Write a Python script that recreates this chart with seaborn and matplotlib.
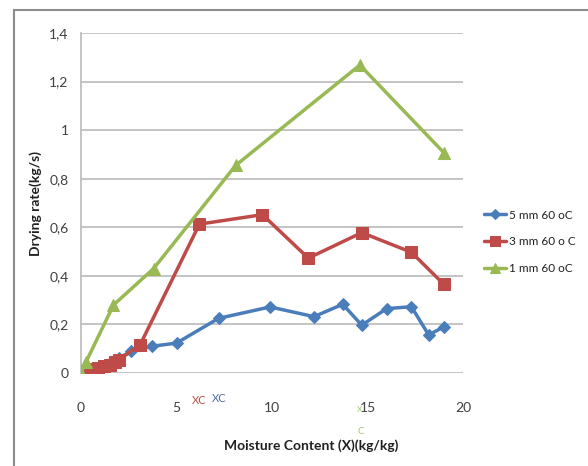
import matplotlib
matplotlib.use("Agg")
import matplotlib.pyplot as plt
import seaborn as sns
import pandas as pd
from matplotlib.patches import Rectangle

# Data
x_5mm = [0.0, 0.5, 1.0, 1.5, 2.0, 2.6, 3.7, 5.0, 7.2, 9.9, 12.2, 13.7, 14.7, 16.0, 17.3, 18.2, 19.0]
y_5mm = [0.0, 0.015, 0.03, 0.04, 0.06, 0.09, 0.11, 0.123, 0.225, 0.272, 0.232, 0.283, 0.197, 0.265, 0.273, 0.157, 0.19]

x_3mm = [0.0, 0.3, 0.6, 0.9, 1.2, 1.5, 1.8, 2.0, 3.1, 6.2, 9.5, 11.9, 14.7, 17.3, 19.0]
y_3mm = [0.005, 0.01, 0.015, 0.02, 0.03, 0.035, 0.045, 0.055, 0.117, 0.613, 0.652, 0.473, 0.578, 0.497, 0.365]

x_1mm = [0.0, 0.26, 1.7, 3.8, 8.1, 14.6, 19.0]
y_1mm = [0.0, 0.045, 0.28, 0.43, 0.855, 1.268, 0.907]

labels = ["5 mm 60 oC", "3 mm 60 o C", "1 mm 60 oC"]
yticks = [0, 0.2, 0.4, 0.6, 0.8, 1.0, 1.2, 1.4]
ytick_labels = ["0", "0,2", "0,4", "0,6", "0,8", "1", "1,2", "1,4"]
xticks = [0, 5, 10, 15, 20]

sns.set_style("white")
plt.rcParams['font.family'] = ['Lato', 'DejaVu Sans']

W, H = 588, 466
fig = plt.figure(figsize=(W / 100, H / 100), dpi=100)
ax = fig.add_axes([81 / W, 1 - 373 / H, (463 - 81) / W, (373 - 33) / H])

colors = ["#4A7EBB", "#BE4B48", "#98B954"]
markers = ["D", "s", "^"]
msizes = [6.5, 9, 9]
series = [(x_5mm, y_5mm), (x_3mm, y_3mm), (x_1mm, y_1mm)]
for (xs, ys), lab, c, m, ms in zip(series, labels, colors, markers, msizes):
    df = pd.DataFrame({"x": xs, "y": ys})
    sns.lineplot(data=df, x="x", y="y", ax=ax, color=c, marker=m, markersize=ms,
                 markeredgecolor=c, linewidth=2.5, sort=False, label=lab, zorder=3)

ax.set_xlim(0, 20)
ax.set_ylim(0, 1.4)
ax.set_yticks(yticks)
ax.set_yticklabels(ytick_labels)
ax.set_xticks(xticks)
ax.set_xticklabels([str(v) for v in xticks])
ax.tick_params(axis='both', length=0, labelsize=10, colors="#404040")
ax.tick_params(axis='x', pad=21)
ax.tick_params(axis='y', pad=9)
ax.grid(axis='y', color="#BFBFBF", linewidth=1.3)
ax.set_axisbelow(True)
for s in ["top", "right", "bottom"]:
    ax.spines[s].set_visible(False)
ax.spines["left"].set_color("#BFBFBF")
ax.spines["left"].set_linewidth(1.3)
ax.set_xlabel("")
ax.set_ylabel("")

fig.text(36 / W, 1 - 203 / H, "Drying rate(kg/s)", rotation=90, ha="center", va="center",
         fontsize=10, fontweight="bold", color="#202020")
fig.text(311 / W, 1 - 446 / H, "Moisture Content (X)(kg/kg)", ha="center", va="center",
         fontsize=10, fontweight="bold", color="#202020")

# XC annotations
fig.text(199 / W, 1 - 400 / H, "XC", ha="center", va="center", fontsize=8, color="#C0504D")
fig.text(219 / W, 1 - 398 / H, "XC", ha="center", va="center", fontsize=8, color="#4F6FA0")
fig.text(360 / W, 1 - 409 / H, "X", ha="center", va="center", fontsize=6, color="#9BC46A")
fig.text(361 / W, 1 - 432 / H, "C", ha="center", va="center", fontsize=7, color="#9BC46A")

# Legend
leg = ax.legend(loc="center left", bbox_to_anchor=(484 / W, 1 - 242 / H),
                bbox_transform=fig.transFigure, frameon=False, fontsize=8.5,
                handlelength=1.9, handletextpad=0.2, labelspacing=1.35, markerscale=0.75,
                borderpad=0, borderaxespad=0)
for t in leg.get_texts():
    t.set_color("#202020")

# Outer frame
fig.patches.append(Rectangle((14 / W, -0.1), 1.2, 1 - 10 / H + 0.1, transform=fig.transFigure,
                             fill=False, edgecolor="#8C8C8C", linewidth=1.5))

fig.savefig("out.png", dpi=100)
